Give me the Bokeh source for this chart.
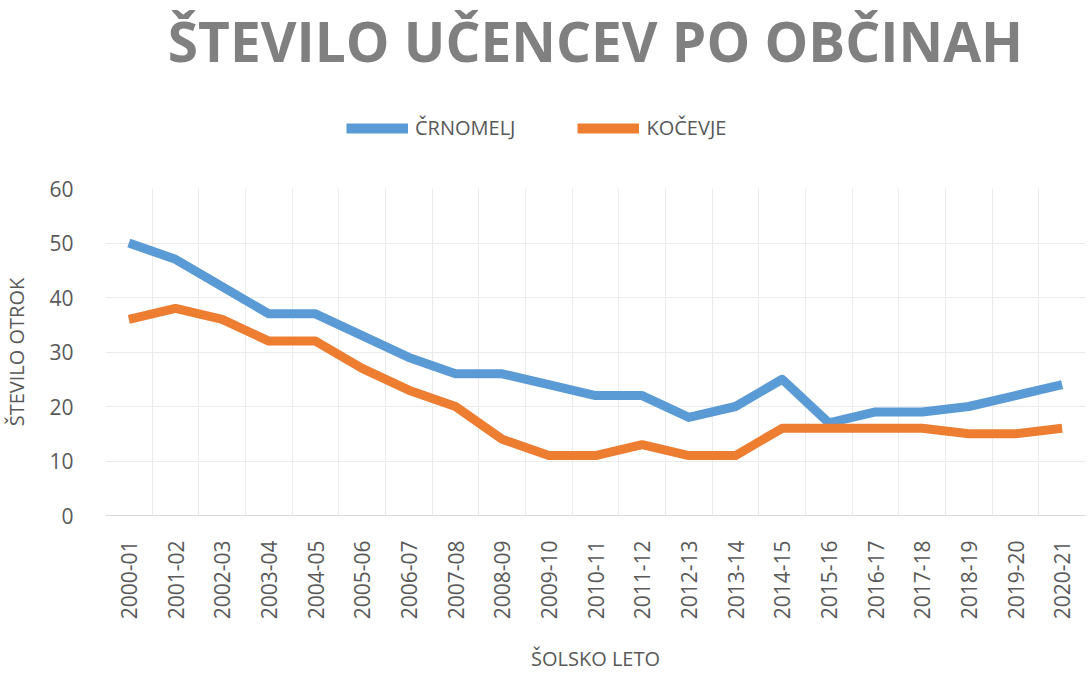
from bokeh.plotting import figure
from bokeh.layouts import column
from bokeh.models import (FixedTicker, Legend, LegendItem, ColumnDataSource)
from bokeh.embed import file_html
from bokeh.resources import INLINE
import math

years = ["2000-01", "2001-02", "2002-03", "2003-04", "2004-05", "2005-06", "2006-07",
         "2007-08", "2008-09", "2009-10", "2010-11", "2011-12", "2012-13", "2013-14",
         "2014-15", "2015-16", "2016-17", "2017-18", "2018-19", "2019-20", "2020-21"]
crnomelj = [50, 47, 42, 37, 37, 33, 29, 26, 26, 24, 22, 22, 18, 20, 25, 17, 19, 19, 20, 22, 24]
kocevje = [36, 38, 36, 32, 32, 27, 23, 20, 14, 11, 11, 13, 11, 11, 16, 16, 16, 16, 15, 15, 16]
y_ticks = [0, 10, 20, 30, 40, 50, 60]
series_names = ["ČRNOMELJ", "KOČEVJE"]
colors = ["#5B9BD5", "#ED7D31"]

idx = list(range(len(years)))
src = ColumnDataSource(dict(x=idx, c=crnomelj, k=kocevje))

GRAY = "#595959"
FONT = "Open Sans"

# ---- header: title + legend ----
head = figure(width=1089, height=170, output_backend="svg", toolbar_location=None,
              x_axis_type=None, y_axis_type=None, min_border=0,
              x_range=(0, 1), y_range=(0, 1))
head.grid.visible = False
head.outline_line_color = None
head.title.text = "ŠTEVILO UČENCEV PO OBČINAH"
head.title.text_font = FONT
head.title.text_font_style = "bold"
head.title.text_font_size = "55px"
head.title.text_color = "#808080"
head.title.align = "center"
head.title.offset = -12
head.title.standoff = 0

# legend sample lines only (no visible data in the header)
nan = float("nan")
dummy = ColumnDataSource(dict(x=[nan], y=[nan]))
l1 = head.line("x", "y", source=dummy, line_color=colors[0], line_width=10)
l2 = head.line("x", "y", source=dummy, line_color=colors[1], line_width=10)
legend = Legend(items=[LegendItem(label=series_names[0], renderers=[l1]),
                       LegendItem(label=series_names[1], renderers=[l2])],
                orientation="horizontal", location=(241, 29),
                label_text_font=FONT, label_text_font_size="20px", label_text_color=GRAY,
                glyph_width=62, glyph_height=20, label_standoff=7, spacing=62,
                border_line_color=None, background_fill_alpha=0, padding=5, margin=0)
head.add_layout(legend, "center")

# ---- main chart ----
p = figure(width=1089, height=505, output_backend="svg", toolbar_location=None,
           x_range=(-0.5, len(years) - 0.5), y_range=(0, 60),
           min_border_left=105, min_border_right=4, min_border_top=18, min_border_bottom=158)

p.line("x", "c", source=src, line_color=colors[0], line_width=9, line_join="round")
p.line("x", "k", source=src, line_color=colors[1], line_width=9, line_join="round")

p.xaxis.ticker = FixedTicker(ticks=idx)
p.xaxis.major_label_overrides = {i: y for i, y in enumerate(years)}
p.xaxis.major_label_orientation = math.pi / 2
p.yaxis.ticker = FixedTicker(ticks=y_ticks)

for ax in (p.xaxis[0], p.yaxis[0]):
    ax.major_tick_line_color = None
    ax.minor_tick_line_color = None
    ax.major_label_text_font = FONT
    ax.major_label_text_font_size = "21px"
    ax.major_label_text_color = GRAY
    ax.axis_label_text_font = FONT
    ax.axis_label_text_font_size = "20px"
    ax.axis_label_text_color = GRAY
    ax.axis_label_text_font_style = "normal"

p.xaxis.axis_label = "ŠOLSKO LETO"
p.yaxis.axis_label = "ŠTEVILO OTROK"
p.xaxis.axis_line_color = "#d9d9d9"
p.yaxis.axis_line_color = None
p.xaxis.major_label_standoff = 19
p.yaxis.major_label_standoff = 26
p.xaxis.axis_label_standoff = 23
p.yaxis.axis_label_standoff = 16

p.xgrid.ticker = FixedTicker(ticks=[i - 0.5 for i in range(len(years) + 1)])
p.xgrid.grid_line_color = "#ebebeb"
p.ygrid.grid_line_color = "#ebebeb"
p.outline_line_color = None

layout = column(head, p, spacing=0)
open("out.html", "w").write(file_html(layout, INLINE))
